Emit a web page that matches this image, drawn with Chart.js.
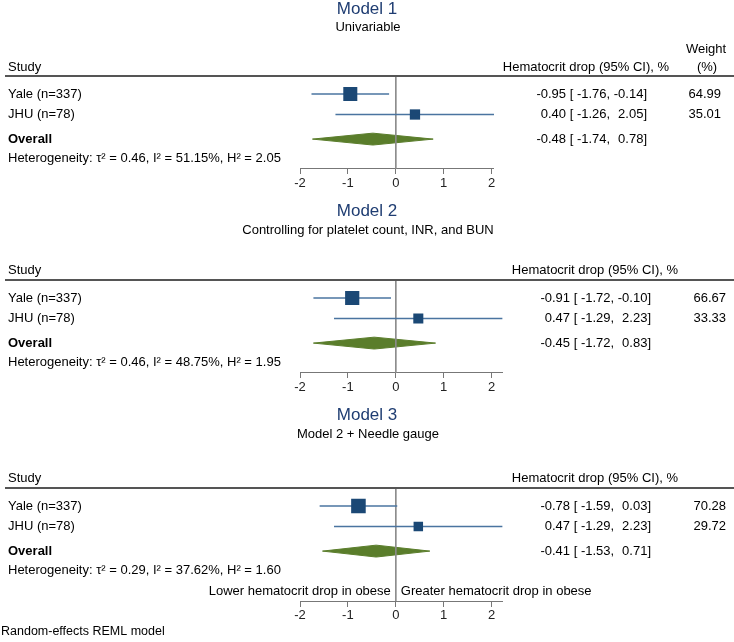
<!DOCTYPE html>
<html>
<head>
<meta charset="utf-8">
<script src="https://cdn.jsdelivr.net/npm/chart.js@4.4.0/dist/chart.umd.min.js"></script>
<style>
  body { margin: 0; background: #fff; }
  #wrap { position: relative; width: 734px; height: 642px; }
  canvas { position: absolute; left: 0; }
</style>
</head>
<body>
<div id="wrap">
  <canvas id="m1" width="734" height="200" style="top:0px"></canvas>
  <canvas id="m2" width="734" height="200" style="top:200px"></canvas>
  <canvas id="m3" width="734" height="242" style="top:400px"></canvas>
</div>
<script>
// ---- data ----
var studies = ['Yale (n=337)', 'JHU (n=78)'];
var titles = ['Model 1', 'Model 2', 'Model 3'];
var subtitles = ['Univariable', 'Controlling for platelet count, INR, and BUN', 'Model 2 + Needle gauge'];

var m1Est = [-0.95, 0.40];
var m1Lo = [-1.76, -1.26];
var m1Hi = [-0.14, 2.05];
var m1Wt = [64.99, 35.01];

var m2Est = [-0.91, 0.47];
var m2Lo = [-1.72, -1.29];
var m2Hi = [-0.10, 2.23];
var m2Wt = [66.67, 33.33];

var m3Est = [-0.78, 0.47];
var m3Lo = [-1.59, -1.29];
var m3Hi = [0.03, 2.23];
var m3Wt = [70.28, 29.72];

var overallEst = [-0.48, -0.45, -0.41];
var overallLo = [-1.74, -1.72, -1.53];
var overallHi = [0.78, 0.83, 0.71];

var tau2 = [0.46, 0.46, 0.29];
var i2 = [51.15, 48.75, 37.62];
var h2 = [2.05, 1.95, 1.60];

var xTicks = [-2, -1, 0, 1, 2];

// row slots (Yale = 1)
var studyRows = [1, 2];
var overallRow = 3.2;
var hetRow = 4.12;

// ---- layout ----
var ROW = 20.5;       // px per row
var PX = 47.9;        // px per x unit
var X0 = 300;         // pixel of first tick
var FONT = '"Liberation Sans", Arial, sans-serif';
var NAVY = '#1f3d72';
var SQ = '#1b4875';
var CI = '#4a74a0';
var GREEN = '#5a7d2b';

var panels = [
  { id: 'm1', top: 0, yale: 94, title: -85, sub: -67, weight: -45, study: -27, line: -18, axis: 75, hdrRight: 669, ciRight: 647, wtRight: 721 },
  { id: 'm2', top: 200, yale: 298, title: -87, sub: -68, study: -28, line: -18, axis: 75, hdrRight: 678, ciRight: 651, wtRight: 726 },
  { id: 'm3', top: 400, yale: 506, title: -91, sub: -72, study: -28, line: -18, axis: 95, annot: 85, footer: 126, hdrRight: 678, ciRight: 651, wtRight: 726 }
];

function fmt(v) { return v.toFixed(2); }

function textPlugin(k, est, lo, hi, wt) {
  var p = panels[k];
  return {
    id: 'forestText' + k,
    afterDraw: function (chart) {
      var ctx = chart.ctx;
      var ys = chart.scales.y;
      var xs = chart.scales.x;
      var base = ys.getPixelForValue(1);
      ctx.save();
      ctx.textBaseline = 'middle';
      ctx.fillStyle = NAVY;
      ctx.textAlign = 'center';
      ctx.font = '17px ' + FONT;
      ctx.fillText(titles[k], 367, base + p.title);
      ctx.fillStyle = '#000';
      ctx.font = '13px ' + FONT;
      ctx.fillText(subtitles[k], 368, base + p.sub);

      // header
      ctx.textAlign = 'left';
      ctx.fillText('Study', 8, base + p.study);
      ctx.textAlign = 'right';
      ctx.fillText('Hematocrit drop (95% CI), %', p.hdrRight, base + p.study);
      if (p.weight !== undefined) {
        ctx.textAlign = 'center';
        ctx.fillText('Weight', 706, base + p.weight);
        ctx.fillText('(%)', 707, base + p.study);
      }
      ctx.strokeStyle = '#555';
      ctx.lineWidth = 2;
      ctx.beginPath();
      ctx.moveTo(5, Math.round(base + p.line));
      ctx.lineTo(734, Math.round(base + p.line));
      ctx.stroke();

      // CI column pieces
      var wField = ctx.measureText('-0.00').width;
      var wSp = ctx.measureText(' ').width;
      var wCm = ctx.measureText(',').width;
      var wBr = ctx.measureText(']').width;
      var xU = p.ciRight - wBr;
      var xL = xU - wField - wSp - wCm;
      var xB = xL - wField - wSp - ctx.measureText('[').width;
      var xE = xB - wSp;
      function ciText(e, l, h, y) {
        ctx.textAlign = 'right';
        ctx.fillText(fmt(e), xE, y);
        ctx.fillText(fmt(l), xL, y);
        ctx.fillText(fmt(h), xU, y);
        ctx.textAlign = 'left';
        ctx.fillText('[', xB, y);
        ctx.fillText(',', xL, y);
        ctx.fillText(']', xU, y);
      }

      for (var i = 0; i < studies.length; i++) {
        var y = ys.getPixelForValue(studyRows[i]);
        ctx.textAlign = 'left';
        ctx.fillText(studies[i], 8, y);
        ciText(est[i], lo[i], hi[i], y);
        ctx.textAlign = 'right';
        ctx.fillText(fmt(wt[i]), p.wtRight, y);
      }
      var yo = ys.getPixelForValue(overallRow);
      ctx.font = 'bold 13px ' + FONT;
      ctx.textAlign = 'left';
      ctx.fillText('Overall', 8, yo);
      ctx.font = '13px ' + FONT;
      ciText(overallEst[k], overallLo[k], overallHi[k], yo);

      ctx.textAlign = 'left';
      ctx.fillText('Heterogeneity: \u03c4\u00b2 = ' + fmt(tau2[k]) + ', I\u00b2 = ' + fmt(i2[k]) +
        '%, H\u00b2 = ' + fmt(h2[k]), 8, ys.getPixelForValue(hetRow));

      if (p.annot !== undefined) {
        var x0 = xs.getPixelForValue(0);
        ctx.textAlign = 'right';
        ctx.fillText('Lower hematocrit drop in obese', x0 - 5, base + p.annot);
        ctx.textAlign = 'left';
        ctx.fillText('Greater hematocrit drop in obese', x0 + 5, base + p.annot);
      }
      if (p.footer !== undefined) {
        ctx.textAlign = 'left';
        ctx.font = '12.5px ' + FONT;
        ctx.fillText('Random-effects REML model', 1, base + p.footer);
      }
      ctx.restore();
    }
  };
}

function buildPanel(k, est, lo, hi, wt) {
  var p = panels[k];
  var canvas = document.getElementById(p.id);
  var H = canvas.height;
  var yMin = 1 + (p.top - p.yale) / ROW;
  var yMax = yMin + H / ROW;
  var xMax = Math.max.apply(null, hi.concat([overallHi[k], xTicks[xTicks.length - 1]]));
  var padRight = 734 - (X0 + (xMax - xTicks[0]) * PX);
  var lineRow = 1 + p.line / ROW;
  var axisRow = 1 + p.axis / ROW;
  var dh = 0.29;

  var datasets = [];
  // study squares (on top)
  datasets.push({
    type: 'scatter',
    data: est.map(function (e, i) { return { x: e, y: studyRows[i] }; }),
    pointStyle: 'rect',
    pointRadius: wt.map(function (w) { return 1.23 * Math.sqrt(w); }),
    backgroundColor: SQ,
    borderColor: SQ,
    borderWidth: 0,
    order: 0
  });
  // CI lines
  est.forEach(function (e, i) {
    datasets.push({
      type: 'line',
      data: [{ x: lo[i], y: studyRows[i] }, { x: hi[i], y: studyRows[i] }],
      borderColor: CI,
      borderWidth: 1.5,
      pointRadius: 0,
      order: 1
    });
  });
  // no-effect line
  datasets.push({
    type: 'line',
    data: [{ x: 0, y: lineRow }, { x: 0, y: axisRow }],
    borderColor: '#8a8a8a',
    borderWidth: 1,
    pointRadius: 0,
    order: 2
  });
  // overall diamond
  datasets.push({
    type: 'line',
    data: [
      { x: overallLo[k], y: overallRow },
      { x: overallEst[k], y: overallRow - dh },
      { x: overallHi[k], y: overallRow },
      { x: overallEst[k], y: overallRow + dh },
      { x: overallLo[k], y: overallRow }
    ],
    borderColor: GREEN,
    backgroundColor: GREEN,
    borderWidth: 1,
    pointRadius: 0,
    tension: 0,
    fill: 'shape',
    order: 3
  });

  return new Chart(canvas, {
    type: 'scatter',
    data: { datasets: datasets },
    options: {
      responsive: false,
      animation: false,
      layout: { autoPadding: false, padding: { left: X0, right: padRight, top: 0, bottom: 0 } },
      plugins: { legend: { display: false }, tooltip: { enabled: false } },
      scales: {
        x: {
          type: 'linear',
          min: xTicks[0],
          max: xMax,
          position: { y: axisRow },
          afterBuildTicks: function (s) { s.ticks = xTicks.map(function (v) { return { value: v }; }); },
          grid: { display: true, drawOnChartArea: false, drawTicks: true, tickLength: 5, color: '#777', lineWidth: 1 },
          border: { display: true, color: '#777', width: 1 },
          ticks: { color: '#222', padding: 2, font: { size: 13, family: FONT } }
        },
        y: { type: 'linear', display: false, reverse: true, min: yMin, max: yMax }
      }
    },
    plugins: [textPlugin(k, est, lo, hi, wt)]
  });
}

buildPanel(0, m1Est, m1Lo, m1Hi, m1Wt);
buildPanel(1, m2Est, m2Lo, m2Hi, m2Wt);
buildPanel(2, m3Est, m3Lo, m3Hi, m3Wt);
</script>
</body>
</html>
